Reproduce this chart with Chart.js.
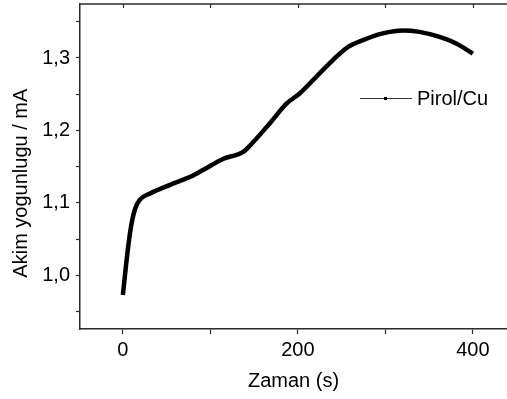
<!DOCTYPE html>
<html lang="en">

<head>
    <meta charset="UTF-8">
    <title>Pirol/Cu</title>
    <script src="https://cdn.jsdelivr.net/npm/chart.js"></script>
    <style>
        body { margin: 0; background: #fff; }
    </style>
</head>

<body>
    <canvas id="myChart" width="507" height="399"></canvas>
    <script>
        // values
        const time = [0, 3, 6, 10, 14, 19, 31, 54, 77, 91, 115, 137, 149, 168, 187, 202, 221, 240, 257, 275, 297, 320, 339, 362, 381, 400];
        const current = [0.973, 1.007, 1.039, 1.072, 1.092, 1.104, 1.113, 1.125, 1.136, 1.145, 1.161, 1.170, 1.184, 1.210, 1.237, 1.251, 1.274, 1.297, 1.315, 1.325, 1.334, 1.338, 1.336, 1.329, 1.320, 1.306];
        const seriesName = 'Pirol/Cu';
        const xTicks = [0, 100, 200, 300, 400];
        const xLabels = ['0', '', '200', '', '400'];
        const yTicks = [0.95, 1.0, 1.05, 1.1, 1.15, 1.2, 1.25, 1.3, 1.35];
        const yLabels = ['', '1,0', '', '1,1', '', '1,2', '', '1,3', ''];

        Chart.defaults.font.family = "'Liberation Sans', Arial, sans-serif";
        Chart.defaults.font.size = 20;
        Chart.defaults.color = '#000';

        const axisColor = '#2a2a2a';

        // top frame line with inward ticks, and the legend sample
        const frame = {
            id: 'frame',
            afterDatasetsDraw(chart) {
                const ctx = chart.ctx;
                const area = chart.chartArea;
                const xs = chart.scales.x;
                ctx.save();
                ctx.strokeStyle = axisColor;
                ctx.lineWidth = 1.5;
                ctx.beginPath();
                ctx.moveTo(area.left, area.top);
                ctx.lineTo(area.right, area.top);
                ctx.stroke();
                ctx.lineWidth = 1.2;
                xTicks.forEach(v => {
                    const px = Math.round(xs.getPixelForValue(v)) + 0.5;
                    ctx.beginPath();
                    ctx.moveTo(px, area.top);
                    ctx.lineTo(px, area.top + 4);
                    ctx.stroke();
                });

                // legend
                const lx = 360, ly = 98;
                ctx.strokeStyle = '#333';
                ctx.lineWidth = 1;
                ctx.beginPath();
                ctx.moveTo(lx, ly + 0.5);
                ctx.lineTo(lx + 52, ly + 0.5);
                ctx.stroke();
                ctx.fillStyle = '#000';
                ctx.fillRect(lx + 24, ly - 1, 3, 3);
                ctx.font = "20px 'Liberation Sans', Arial, sans-serif";
                ctx.textBaseline = 'middle';
                ctx.fillText(seriesName, lx + 57, ly + 1);
                ctx.restore();
            }
        };

        let ctx = document.getElementById('myChart').getContext('2d');
        let myChart = new Chart(ctx, {
            type: 'line',
            data: {
                datasets: [{
                    label: seriesName,
                    data: time.map((t, i) => ({ x: t, y: current[i] })),
                    borderColor: '#000',
                    borderWidth: 4.5,
                    pointRadius: 0,
                    cubicInterpolationMode: 'monotone',
                    fill: false
                }]
            },
            options: {
                responsive: false,
                animation: false,
                layout: { padding: { top: 4, right: 0, bottom: 0, left: 0 } },
                plugins: {
                    legend: { display: false },
                    tooltip: { enabled: false }
                },
                scales: {
                    x: {
                        type: 'linear',
                        min: -49,
                        max: 439,
                        afterBuildTicks: (scale) => {
                            scale.ticks = xTicks.map(v => ({ value: v }));
                        },
                        afterFit: (scale) => {
                            scale.height = 70;
                            scale.paddingLeft = 0;
                            scale.paddingRight = 0;
                        },
                        ticks: {
                            padding: 4,
                            maxRotation: 0,
                            autoSkip: false,
                            callback: (v) => xLabels[xTicks.indexOf(v)]
                        },
                        grid: {
                            drawOnChartArea: false,
                            tickLength: 5,
                            tickWidth: 1.2,
                            tickColor: axisColor
                        },
                        border: { color: axisColor, width: 1.5 },
                        title: {
                            display: true,
                            text: 'Zaman (s)',
                            padding: { top: 0, bottom: 6 }
                        }
                    },
                    y: {
                        min: 0.926,
                        max: 1.3745,
                        afterBuildTicks: (scale) => {
                            scale.ticks = yTicks.map(v => ({ value: v }));
                        },
                        afterFit: (scale) => {
                            scale.width = 80;
                            scale.paddingTop = 0;
                            scale.paddingBottom = 0;
                        },
                        ticks: {
                            padding: 6,
                            autoSkip: false,
                            callback: (v) => yLabels[yTicks.findIndex(t => Math.abs(t - v) < 1e-6)]
                        },
                        grid: {
                            drawOnChartArea: false,
                            tickLength: 4,
                            tickWidth: 1.2,
                            tickColor: axisColor
                        },
                        border: { color: axisColor, width: 1.5 },
                        title: {
                            display: true,
                            text: 'Akim yogunlugu / mA      ',
                            padding: { top: 9, bottom: 0 }
                        }
                    }
                }
            },
            plugins: [frame]
        });
    </script>
</body>

</html>
